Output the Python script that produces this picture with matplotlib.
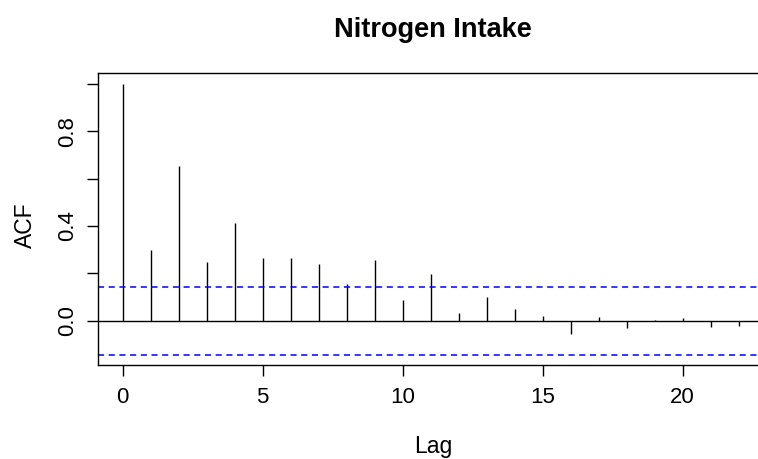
import numpy as np
import matplotlib.pyplot as plt

plt.rcParams['font.family'] = ['Liberation Sans', 'DejaVu Sans']

# ACF values
lags = list(range(23))
acf = [1.0, 0.297, 0.655, 0.249, 0.414, 0.263, 0.263, 0.241, 0.155, 0.255,
       0.086, 0.197, 0.031, 0.099, 0.048, 0.018, -0.055, 0.014, -0.032,
       0.003, 0.010, -0.027, -0.023]
conf = 0.143
x_ticks = [0, 5, 10, 15, 20]
y_ticks = [0.0, 0.2, 0.4, 0.6, 0.8, 1.0]
y_labels = ['0.0', '', '0.4', '', '0.8', '']

fig = plt.figure(figsize=(7.58, 4.59), dpi=100)
# axes run slightly past the right edge, as in the reference
ax = fig.add_axes([98 / 758, 93.8 / 459, 665.3 / 758, 292.1 / 459])

ax.vlines(lags, 0, acf, color='black', lw=1.0)
ax.axhline(0, color='black', lw=1.0)
ax.axhline(conf, color='#0000ff', lw=1.1, ls=(0, (4, 3)))
ax.axhline(-conf, color='#0000ff', lw=1.1, ls=(0, (4, 3)))

ax.set_xlim(-0.88, 22.88)
ax.set_ylim(-0.188, 1.046)

ax.set_xticks(x_ticks)
ax.set_yticks(y_ticks)
ax.set_yticklabels(y_labels, rotation=90, va='center')
ax.tick_params(axis='both', length=8, width=1, labelsize=16, pad=6)
ax.tick_params(axis='x', pad=8)

for s in ax.spines.values():
    s.set_linewidth(1.0)

fig.text(433 / 758, 1 - 30 / 459, 'Nitrogen Intake', ha='center', va='center',
         fontsize=19.5, fontweight='bold')
fig.text(433 / 758, 1 - 447 / 459, 'Lag', ha='center', va='center', fontsize=16.5)
fig.text(25 / 758, 1 - 225 / 459, 'ACF', ha='center', va='center', fontsize=16.5,
         rotation=90)

fig.savefig('out.png', dpi=100)
